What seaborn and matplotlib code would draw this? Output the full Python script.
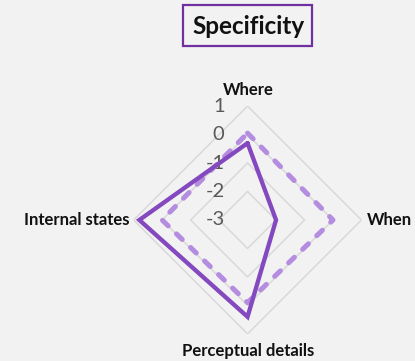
import numpy as np
import pandas as pd
import matplotlib
matplotlib.use("Agg")
import matplotlib.pyplot as plt
from matplotlib.patches import Rectangle
import seaborn as sns

# Radar data: four dimensions, two series
categories = ["Where", "When", "Perceptual details", "Internal states"]
series_solid = [-0.3, -2.0, 0.4, 0.8]
series_dashed = [0.05, 0.0, -0.1, 0.0]
tick_values = [1, 0, -1, -2, -3]
tick_labels = ["1", "0", "-1", "-2", "-3"]
title = "Specificity"

BG = "#f2f2f2"
SOLID = "#8448bf"
DASHED = "#b48ce0"
GRID = "#d9d9d9"

sns.set_style("white", {"axes.facecolor": BG, "figure.facecolor": BG})
plt.rcParams["font.family"] = ["Lato", "DejaVu Sans"]

fig = plt.figure(figsize=(4.15, 3.61), dpi=100)
fig.patch.set_facecolor(BG)
ax = fig.add_axes([0.322, 0.0748, 0.549, 0.6316], projection="polar")
ax.set_facecolor("none")
ax.set_theta_zero_location("N")
ax.set_theta_direction(-1)
rmin, rmax = min(tick_values), max(tick_values)
ax.set_ylim(rmin, rmax)
ax.grid(False)
ax.spines["polar"].set_visible(False)
ax.set_xticks([])
ax.set_yticks([])

n = len(categories)
angles = np.linspace(0, 2 * np.pi, n, endpoint=False)
closed = np.append(angles, 2 * np.pi)

# Diamond-shaped grid rings
for v in tick_values[:-1]:
    ax.plot(closed, [v] * (n + 1), color=GRID, lw=1.1, zorder=1)

def closed_frame(values):
    return pd.DataFrame({"theta": closed, "r": list(values) + [values[0]]})

sns.lineplot(data=closed_frame(series_dashed), x="theta", y="r", sort=False,
             estimator=None, ax=ax, color=DASHED, lw=3.6,
             linestyle=(0, (1.6, 2.3)), dash_capstyle="round", zorder=2)
sns.lineplot(data=closed_frame(series_solid), x="theta", y="r", sort=False,
             estimator=None, ax=ax, color=SOLID, lw=3.1,
             solid_joinstyle="miter", zorder=3)
ax.set_xlabel("")
ax.set_ylabel("")
ax.set_ylim(rmin, rmax)

# Radial value labels along the top spoke (beneath the series lines)
for v, lab in zip(tick_values, tick_labels):
    ax.annotate(lab, xy=(0, v), xytext=(-23, 0), textcoords="offset pixels",
                ha="right", va="center", fontsize=14.5, color="#595959",
                annotation_clip=False, zorder=1.5)

# Category labels at the outer vertices
offsets = [((1, 16), "center", "center"),
           ((5, 0), "left", "center"),
           ((1, -17), "center", "center"),
           ((-4, 0), "right", "center")]
for a, lab, ((dx, dy), ha, va) in zip(angles, categories, offsets):
    ax.annotate(lab, xy=(a, rmax), xytext=(dx, dy), textcoords="offset pixels",
                ha=ha, va=va, fontsize=12, fontweight="bold", color="#111111",
                annotation_clip=False)

# Boxed title
fig.patches.append(Rectangle((183.3 / 415, (361 - 46) / 361), 129 / 415, 41 / 361,
                             transform=fig.transFigure, fill=False,
                             edgecolor="#7030a0", lw=1.6))
fig.text(249 / 415, 1 - 27 / 361, title, ha="center", va="center",
         fontsize=17.5, fontweight="bold", color="#111111")

fig.savefig("out.png", dpi=100, facecolor=BG)
